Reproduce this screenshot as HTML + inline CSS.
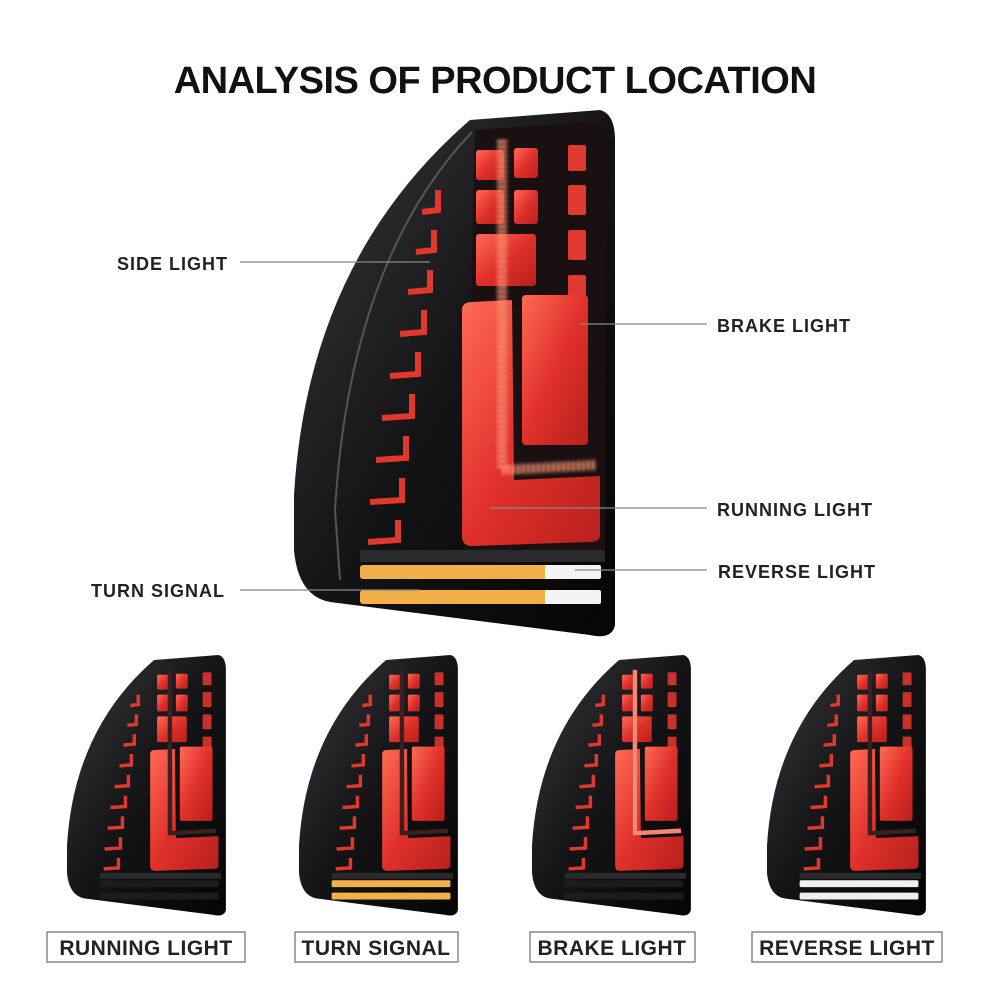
<!DOCTYPE html>
<html><head><meta charset="utf-8"><style>
html,body{margin:0;padding:0;background:#fff;}
body{width:990px;height:990px;overflow:hidden;}
</style></head><body>
<svg width="990" height="990" viewBox="0 0 990 990" xmlns="http://www.w3.org/2000/svg" font-family="Liberation Sans, sans-serif">
<defs>
<linearGradient id="body" x1="0" y1="0" x2="1" y2="1">
<stop offset="0" stop-color="#3a3a3e"/><stop offset="0.5" stop-color="#141416"/><stop offset="1" stop-color="#050506"/>
</linearGradient>
<linearGradient id="red" x1="0" y1="0" x2="1" y2="1">
<stop offset="0" stop-color="#ff6a55"/><stop offset="0.5" stop-color="#e0302a"/><stop offset="1" stop-color="#b8201c"/>
</linearGradient>
<filter id="glow" x="-20%" y="-20%" width="140%" height="140%"><feGaussianBlur stdDeviation="1.5"/></filter>
<g id="lamp">
<path d="M180,10 L310,0 Q325,4 325,30 L325,515 Q322,530 300,525 L40,492 Q8,486 4,440 L4,385 Q18,150 180,10 Z" fill="url(#body)"/>
<path d="M182,22 Q60,150 45,400 L50,470" fill="none" stroke="#555" stroke-width="2"/>
<path d="M185,20 L305,12 Q315,14 315,30 L315,440 L175,448 Z" fill="#1a1012"/>
<rect x="186" y="40" width="28" height="30" rx="3" fill="url(#red)"/>
<rect x="224" y="38" width="24" height="30" rx="3" fill="url(#red)"/>
<rect x="186" y="80" width="28" height="34" rx="3" fill="url(#red)"/>
<rect x="224" y="80" width="24" height="34" rx="3" fill="url(#red)"/>
<rect x="186" y="124" width="60" height="52" rx="3" fill="url(#red)"/>
<rect x="278" y="35" width="18" height="26" rx="2" fill="#e03a30"/>
<rect x="278" y="75" width="18" height="30" rx="2" fill="#e03a30"/>
<rect x="278" y="120" width="18" height="30" rx="2" fill="#e03a30"/>
<rect x="278" y="165" width="18" height="30" rx="2" fill="#e03a30"/>
<rect x="278" y="205" width="18" height="30" rx="2" fill="#e03a30"/>
<rect x="278" y="245" width="18" height="35" rx="2" fill="#e03a30"/>
<rect x="232" y="185" width="66" height="150" rx="4" fill="url(#red)"/>
<path d="M172,200 Q172,192 182,192 L222,190 L224,370 L310,366 L310,425 Q310,432 300,432 L182,436 Q172,436 172,426 Z" fill="url(#red)"/>
<path d="M212,30 L212,360 L305,355" fill="none" stroke="#f89070" stroke-width="10" stroke-dasharray="3 2" filter="url(#glow)"/>
<g fill="none" stroke="#e0382c" stroke-width="6">
<path d="M148,80 L148,100 L132,102"/><path d="M144,120 L144,140 L126,142"/>
<path d="M140,160 L140,180 L118,182"/><path d="M134,200 L134,222 L110,224"/>
<path d="M128,242 L128,264 L100,266"/><path d="M122,284 L122,306 L92,308"/>
<path d="M116,326 L116,348 L86,350"/><path d="M112,368 L112,390 L80,392"/>
<path d="M108,410 L108,430 L78,432"/>
</g>
<rect x="70" y="440" width="245" height="12" fill="#2a2a2c"/>
<rect x="70" y="455" width="190" height="14" rx="3" fill="#f3b048"/>
<rect x="70" y="480" width="190" height="14" rx="3" fill="#f3b048"/>
<rect x="255" y="455" width="56" height="14" rx="2" fill="#f4f4f4"/>
<rect x="255" y="480" width="56" height="14" rx="2" fill="#f4f4f4"/>
</g>
<g id="lampoff">
<path d="M180,10 L310,0 Q325,4 325,30 L325,515 Q322,530 300,525 L40,492 Q8,486 4,440 L4,385 Q18,150 180,10 Z" fill="url(#body)"/>
<rect x="186" y="40" width="28" height="30" rx="3" fill="url(#red)"/>
<rect x="224" y="38" width="24" height="30" rx="3" fill="url(#red)"/>
<rect x="186" y="80" width="28" height="34" rx="3" fill="url(#red)"/>
<rect x="224" y="80" width="24" height="34" rx="3" fill="url(#red)"/>
<rect x="186" y="124" width="60" height="52" rx="3" fill="url(#red)"/>
<rect x="278" y="35" width="18" height="26" rx="2" fill="#c83028"/>
<rect x="278" y="75" width="18" height="30" rx="2" fill="#c83028"/>
<rect x="278" y="120" width="18" height="30" rx="2" fill="#c83028"/>
<rect x="278" y="165" width="18" height="30" rx="2" fill="#c83028"/>
<rect x="278" y="205" width="18" height="30" rx="2" fill="#c83028"/>
<rect x="278" y="245" width="18" height="35" rx="2" fill="#c83028"/>
<rect x="232" y="185" width="66" height="150" rx="4" fill="url(#red)"/>
<path d="M172,200 Q172,192 182,192 L222,190 L224,370 L310,366 L310,425 Q310,432 300,432 L182,436 Q172,436 172,426 Z" fill="url(#red)"/>
<path d="M212,30 L212,360 L305,355" fill="none" stroke="#3a2020" stroke-width="9"/>
<g fill="none" stroke="#e0382c" stroke-width="7">
<path d="M148,80 L148,100 L132,102"/><path d="M144,120 L144,140 L126,142"/>
<path d="M140,160 L140,180 L118,182"/><path d="M134,200 L134,222 L110,224"/>
<path d="M128,242 L128,264 L100,266"/><path d="M122,284 L122,306 L92,308"/>
<path d="M116,326 L116,348 L86,350"/><path d="M112,368 L112,390 L80,392"/>
<path d="M108,410 L108,430 L78,432"/>
</g>
<rect x="70" y="440" width="245" height="12" fill="#2a2a2c"/>
<rect x="70" y="455" width="240" height="14" rx="3" fill="#1c1c1e"/>
<rect x="70" y="480" width="240" height="14" rx="3" fill="#1c1c1e"/>
</g>
</defs>

<text x="495" y="93" text-anchor="middle" font-size="38" font-weight="bold" fill="#111" letter-spacing="-0.5">ANALYSIS OF PRODUCT LOCATION</text>

<use href="#lamp" transform="translate(290,110)"/>

<g stroke="#888" stroke-width="1.2">
<line x1="240" y1="262" x2="430" y2="262"/>
<line x1="580" y1="324" x2="707" y2="324"/>
<line x1="490" y1="508" x2="707" y2="508"/>
<line x1="575" y1="570" x2="707" y2="570"/>
<line x1="240" y1="590" x2="420" y2="590"/>
</g>
<g font-size="18" font-weight="bold" fill="#222" letter-spacing="1">
<text x="117" y="270">SIDE LIGHT</text>
<text x="717" y="332">BRAKE LIGHT</text>
<text x="717" y="516">RUNNING LIGHT</text>
<text x="718" y="578">REVERSE LIGHT</text>
<text x="91" y="597">TURN SIGNAL</text>
</g>

<use href="#lampoff" transform="translate(65,655) scale(0.495)"/>
<g transform="translate(297,655) scale(0.495)"><use href="#lampoff"/>
<rect x="70" y="455" width="240" height="14" rx="3" fill="#f3b048"/><rect x="70" y="480" width="240" height="14" rx="3" fill="#f3b048"/></g>
<g transform="translate(530,655) scale(0.495)"><use href="#lampoff"/>
<path d="M212,30 L212,360 L305,355" fill="none" stroke="#f58870" stroke-width="9"/></g>
<g transform="translate(765,655) scale(0.495)"><use href="#lampoff"/>
<rect x="70" y="455" width="240" height="14" rx="3" fill="#f0f0f0"/><rect x="70" y="480" width="240" height="14" rx="3" fill="#f0f0f0"/></g>

<g fill="none" stroke="#888" stroke-width="1.5">
<rect x="47" y="932" width="198" height="30"/>
<rect x="295" y="932" width="163" height="30"/>
<rect x="530" y="932" width="165" height="30"/>
<rect x="752" y="932" width="190" height="30"/>
</g>
<g font-size="21" font-weight="bold" fill="#222" text-anchor="middle" letter-spacing="0.5">
<text x="146" y="955">RUNNING LIGHT</text>
<text x="376" y="955">TURN SIGNAL</text>
<text x="612" y="955">BRAKE LIGHT</text>
<text x="847" y="955">REVERSE LIGHT</text>
</g>
</svg>
</body></html>
